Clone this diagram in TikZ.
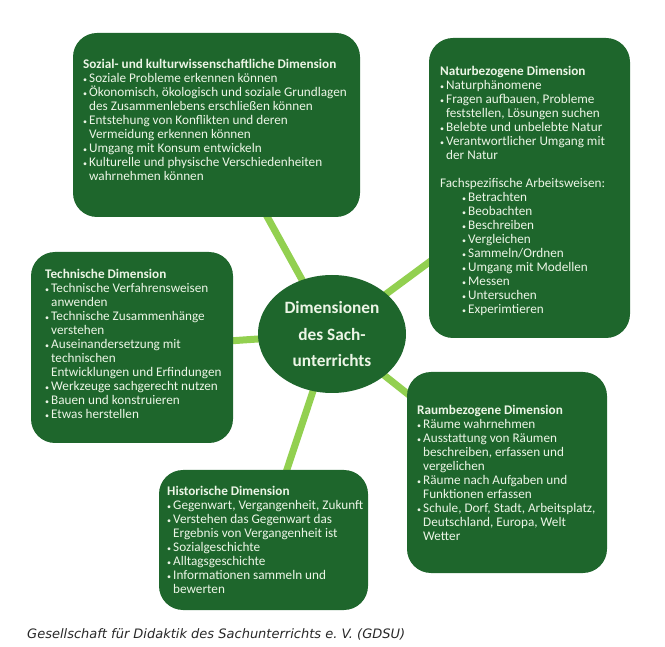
\documentclass[tikz,border=0pt]{standalone}
\usepackage{fontspec}
\setmainfont{Carlito}
\newfontfamily\capfont{DejaVu Sans}
\usetikzlibrary{shapes.geometric,backgrounds}
\definecolor{boxgreen}{RGB}{30,102,44}
\definecolor{linkgreen}{RGB}{146,208,80}
\definecolor{boxtext}{RGB}{236,245,230}
\definecolor{captext}{RGB}{40,40,40}
\newcommand{\bl}{\makebox[6pt][l]{\footnotesize\textbullet}}
\newcommand{\ci}{\hspace*{6pt}}
\begin{document}
\begin{tikzpicture}[x=1pt,y=-1pt,
  dimbox/.style={fill=boxgreen,rounded corners=24pt,inner sep=0pt},
  dimtext/.style={text=boxtext,align=left,anchor=north west,inner sep=0pt,font=\fontsize{13.2}{14}\selectfont},
  hub/.style={ellipse,fill=boxgreen,inner sep=0pt,minimum width=148pt,minimum height=118pt,
    text=boxtext,align=center,font=\fontsize{17.3}{26.5}\selectfont\bfseries},
  link/.style={linkgreen,line width=7pt}]
  \useasboundingbox (0,0) rectangle (665,647);
  \node[hub] (mid) at (332,334) {Dimensionen\\des Sach-\\unterrichts};
  \node[dimbox,minimum width=287pt,minimum height=184pt] (soz) at (216.5,125) {};
  \node[dimbox,minimum width=201pt,minimum height=300pt] (natur) at (529.5,188) {};
  \node[dimbox,minimum width=202pt,minimum height=191pt] (technik) at (132,347.5) {};
  \node[dimbox,minimum width=200pt,minimum height=201pt] (raum) at (507,472.5) {};
  \node[dimbox,minimum width=209pt,minimum height=140pt] (hist) at (263.5,540) {};
  \begin{scope}[on background layer]
    \draw[link] (mid.center) -- (soz.center);
    \draw[link] (mid.center) -- (natur.center);
    \draw[link] (mid.center) -- (technik.center);
    \draw[link] (mid.center) -- (raum.center);
    \draw[link] (mid.center) -- (hist.center);
  \end{scope}
  \node[dimtext] (soztext) at (83,59.2) {\textbf{Sozial- und kulturwissenschaftliche Dimension}\\
    \bl Soziale Probleme erkennen können\\
    \bl Ökonomisch, ökologisch und soziale Grundlagen\\
    \ci des Zusammenlebens erschließen können\\
    \bl Entstehung von Konflikten und deren\\
    \ci Vermeidung erkennen können\\
    \bl Umgang mit Konsum entwickeln\\
    \bl Kulturelle und physische Verschiedenheiten\\
    \ci wahrnehmen können};
  \node[dimtext] (naturtext) at (440,66.2) {\textbf{Naturbezogene Dimension}\\
    \bl Naturphänomene\\
    \bl Fragen aufbauen, Probleme\\
    \ci feststellen, Lösungen suchen\\
    \bl Belebte und unbelebte Natur\\
    \bl Verantwortlicher Umgang mit\\
    \ci der Natur\\[13.6pt]
    Fachspezifische Arbeitsweisen:\\
    \hspace*{22pt}\bl Betrachten\\
    \hspace*{22pt}\bl Beobachten\\
    \hspace*{22pt}\bl Beschreiben\\
    \hspace*{22pt}\bl Vergleichen\\
    \hspace*{22pt}\bl Sammeln/Ordnen\\
    \hspace*{22pt}\bl Umgang mit Modellen\\
    \hspace*{22pt}\bl Messen\\
    \hspace*{22pt}\bl Untersuchen\\
    \hspace*{22pt}\bl Experimtieren};
  \node[dimtext] (techniktext) at (45,269.2) {\textbf{Technische Dimension}\\
    \bl Technische Verfahrensweisen\\
    \ci anwenden\\
    \bl Technische Zusammenhänge\\
    \ci verstehen\\
    \bl Auseinandersetzung mit\\
    \ci technischen\\
    \ci Entwicklungen und Erfindungen\\
    \bl Werkzeuge sachgerecht nutzen\\
    \bl Bauen und konstruieren\\
    \bl Etwas herstellen};
  \node[dimtext] (raumtext) at (417,405.2) {\textbf{Raumbezogene Dimension}\\
    \bl Räume wahrnehmen\\
    \bl Ausstattung von Räumen\\
    \ci beschreiben, erfassen und\\
    \ci vergelichen\\
    \bl Räume nach Aufgaben und\\
    \ci Funktionen erfassen\\
    \bl Schule, Dorf, Stadt, Arbeitsplatz,\\
    \ci Deutschland, Europa, Welt\\
    \ci Wetter};
  \node[dimtext] (histtext) at (167,486.2) {\textbf{Historische Dimension}\\
    \bl Gegenwart, Vergangenheit, Zukunft\\
    \bl Verstehen das Gegenwart das\\
    \ci Ergebnis von Vergangenheit ist\\
    \bl Sozialgeschichte\\
    \bl Alltagsgeschichte\\
    \bl Informationen sammeln und\\
    \ci bewerten};
  \node[anchor=west,inner sep=0pt,text=captext,font=\capfont\itshape\fontsize{13}{15}\selectfont] (quelle) at (27,634)
    {Gesellschaft für Didaktik des Sachunterrichts e.\ V.\ (GDSU)};
\end{tikzpicture}
\end{document}
